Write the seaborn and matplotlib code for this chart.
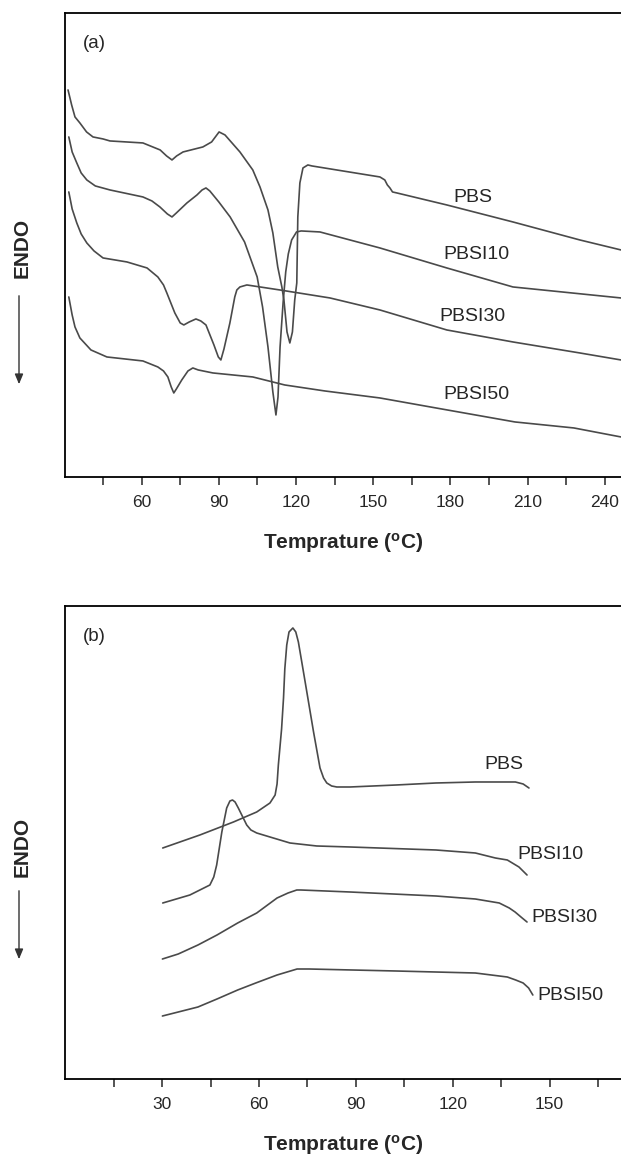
import pandas as pd
import seaborn as sns
import matplotlib.pyplot as plt
from matplotlib.patches import FancyArrowPatch

# ---- data (temperature in °C, heat flow in arbitrary units) ----
samples = ['PBS', 'PBSI10', 'PBSI30', 'PBSI50']

# (a) heating scans
pbs_a_t = [31.4, 32.8, 34.1, 36.0, 38.6, 41.1, 45.0, 47.7, 60.5, 67.2, 69.7, 71.8, 73.6, 76.1,
           83.8, 87.2, 90.1, 92.4, 98.2, 103.2, 106.0, 109.1, 111.0, 112.9, 114.5, 115.3,
           116.5, 117.6, 118.6, 119.5, 120.3, 120.7, 121.5, 122.7, 124.6, 126.2,
           152.6, 154.5, 155.5, 156.5, 157.5, 159.2, 178.6, 204.3, 230.3, 246.3]
pbs_a_hf = [38.7, 37.2, 36.0, 35.4, 34.5, 34.0, 33.8, 33.6, 33.4, 32.7, 32.1, 31.7, 32.1, 32.5,
            33.0, 33.5, 34.5, 34.2, 32.5, 30.7, 29.0, 26.7, 24.4, 21.0, 19.0, 17.7,
            14.5, 13.4, 14.5, 17.7, 19.4, 26.0, 29.4, 30.9, 31.2, 31.1,
            30.0, 29.7, 29.2, 28.9, 28.5, 28.4, 27.2, 25.5, 23.7, 22.7]

pbsi10_a_t = [31.7, 33.0, 34.8, 36.5, 38.7, 42.0, 47.7, 60.5, 64.0, 67.1, 70.0, 71.8, 73.5,
              77.6, 81.5, 83.5, 85.0, 86.5, 90.0, 94.4, 100.0, 104.9, 107.0, 109.1, 111.0,
              112.2, 113.0, 113.8, 115.0, 116.0, 117.0, 118.3, 120.2, 122.0, 129.3,
              152.6, 178.6, 204.3, 246.3]
pbsi10_a_hf = [34.0, 32.5, 31.4, 30.4, 29.7, 29.1, 28.7, 28.0, 27.6, 27.0, 26.3, 26.0, 26.4,
               27.4, 28.2, 28.7, 28.9, 28.6, 27.5, 26.0, 23.5, 20.0, 17.0, 13.0, 8.5,
               6.2, 8.0, 13.0, 17.5, 20.5, 22.3, 23.7, 24.5, 24.6, 24.5,
               22.9, 20.9, 19.0, 17.9]

pbsi30_a_t = [31.7, 33.0, 34.8, 36.5, 38.7, 41.5, 45.0, 54.3, 62.1, 66.3, 68.5, 69.8, 72.9,
              75.0, 76.4, 78.5, 81.1, 83.0, 85.0, 88.1, 89.8, 90.8, 92.0, 94.3, 96.2, 97.0,
              98.2, 100.9, 113.7, 133.2, 152.6, 178.6, 204.3, 230.3, 246.3]
pbsi30_a_hf = [28.5, 26.8, 25.4, 24.3, 23.4, 22.6, 21.9, 21.5, 20.9, 20.0, 19.2, 18.4, 16.4,
               15.4, 15.2, 15.5, 15.8, 15.6, 15.2, 13.2, 12.0, 11.7, 12.8, 15.4, 18.0, 18.7,
               19.0, 19.2, 18.7, 17.9, 16.7, 14.7, 13.5, 12.4, 11.7]

pbsi50_a_t = [31.7, 33.0, 34.1, 36.0, 40.3, 46.5, 60.5, 66.3, 68.5, 70.2, 71.5, 72.5, 73.5,
              75.6, 78.0, 79.9, 82.0, 87.7, 103.2, 115.6, 131.2, 152.6, 174.4, 205.1, 228.0, 246.3]
pbsi50_a_hf = [18.0, 16.2, 15.0, 13.9, 12.7, 12.0, 11.6, 11.0, 10.6, 10.0, 9.0, 8.4, 8.8,
               9.7, 10.6, 10.9, 10.7, 10.4, 10.0, 9.2, 8.6, 7.9, 6.9, 5.5, 4.9, 4.0]

# (b) cooling scans
pbs_b_t = [30.2, 41.7, 52.1, 59.3, 63.4, 65.0, 65.6, 66.0, 67.0, 67.6, 68.0, 68.6, 69.3,
           70.5, 71.4, 72.2, 73.2, 74.3, 76.9, 78.9, 80.0, 81.0, 82.5, 84.1, 88.2, 102.5,
           114.8, 127.0, 139.4, 141.8, 143.6]
pbs_b_hf = [23.1, 24.4, 25.7, 26.7, 27.6, 28.4, 29.5, 31.4, 35.0, 38.1, 41.0, 43.4, 44.7,
            45.1, 44.7, 43.7, 41.8, 39.7, 34.7, 31.1, 30.1, 29.6, 29.3, 29.2, 29.2, 29.4,
            29.6, 29.7, 29.7, 29.5, 29.1]

pbsi10_b_t = [30.2, 38.6, 44.8, 46.0, 46.9, 48.5, 50.0, 51.0, 51.8, 52.6, 53.6, 56.2, 57.5,
              59.3, 63.4, 69.6, 77.9, 88.2, 114.8, 127.0, 133.2, 136.9, 140.5, 143.0]
pbsi10_b_hf = [17.6, 18.4, 19.4, 20.2, 21.4, 24.7, 27.1, 27.8, 27.9, 27.7, 27.1, 25.4, 24.9,
               24.6, 24.2, 23.6, 23.3, 23.2, 22.9, 22.6, 22.1, 21.9, 21.2, 20.4]

pbsi30_b_t = [30.1, 35.0, 41.1, 47.0, 53.4, 59.3, 65.6, 69.0, 71.7, 73.0, 88.2, 114.8, 127.0,
              134.4, 137.5, 139.3, 141.5, 143.0]
pbsi30_b_hf = [12.0, 12.5, 13.4, 14.4, 15.6, 16.6, 18.1, 18.6, 18.9, 18.9, 18.7, 18.3, 18.0,
               17.6, 17.1, 16.7, 16.1, 15.7]

pbsi50_b_t = [30.1, 35.0, 41.1, 47.0, 53.4, 59.0, 65.6, 71.8, 75.5, 102.5, 127.0, 136.9,
              139.5, 141.8, 143.5, 144.8]
pbsi50_b_hf = [6.3, 6.7, 7.2, 8.0, 8.9, 9.6, 10.4, 11.0, 11.0, 10.8, 10.6, 10.2,
               9.9, 9.6, 9.1, 8.4]

ticks_a = [60, 90, 120, 150, 180, 210, 240]
minor_a = [45, 75, 105, 135, 165, 195, 225]
ticks_b = [30, 60, 90, 120, 150]
minor_b = [15, 45, 75, 105, 135, 165]


def make_frame(series):
    rows = []
    for name, (t, hf) in zip(samples, series):
        for i, (x, y) in enumerate(zip(t, hf)):
            rows.append({'sample': name, 'T': x, 'hf': y, 'i': i})
    return pd.DataFrame(rows)


df_a = make_frame([(pbs_a_t, pbs_a_hf), (pbsi10_a_t, pbsi10_a_hf),
                   (pbsi30_a_t, pbsi30_a_hf), (pbsi50_a_t, pbsi50_a_hf)])
df_b = make_frame([(pbs_b_t, pbs_b_hf), (pbsi10_b_t, pbsi10_b_hf),
                   (pbsi30_b_t, pbsi30_b_hf), (pbsi50_b_t, pbsi50_b_hf)])

sns.set_style('ticks')
plt.rcParams['font.family'] = ['Liberation Sans', 'DejaVu Sans']
plt.rcParams['mathtext.fontset'] = 'custom'
plt.rcParams['mathtext.rm'] = 'Liberation Sans'
plt.rcParams['mathtext.bf'] = 'Liberation Sans:bold'

fig = plt.figure(figsize=(6.21, 11.56), dpi=100)
ax_a = fig.add_axes([0.105, 0.5874, 0.895, 0.4014])
ax_b = fig.add_axes([0.105, 0.0666, 0.895, 0.4092])

line_col = '#4a4a4a'
xlabel = r'Temprature ($\mathbf{^{o}}$C)'

panels = [
    (ax_a, df_a, (30.3, 246.3), (0, 46.4), ticks_a, minor_a, '(a)',
     {'PBS': (188.7, 27.9), 'PBSI10': (190.3, 22.2), 'PBSI30': (188.7, 16.0), 'PBSI50': (190.3, 8.2)}),
    (ax_b, df_b, (0, 172.1), (0, 47.3), ticks_b, minor_b, '(b)',
     {'PBS': (135.9, 31.4), 'PBSI10': (150.4, 22.4), 'PBSI30': (154.5, 16.1), 'PBSI50': (156.4, 8.4)}),
]

for ax, df, xlim, ylim, ticks, minor, tag, label_pos in panels:
    sns.lineplot(data=df, x='T', y='hf', hue='sample', palette=[line_col] * 4,
                 sort=False, estimator=None, legend=False, linewidth=1.2, ax=ax)
    ax.set_xlim(*xlim)
    ax.set_ylim(*ylim)
    ax.set_xticks(ticks)
    ax.set_xticks(minor, minor=True)
    ax.set_yticks([])
    ax.set_ylabel('')
    ax.tick_params(axis='x', which='both', direction='out', length=6, width=1.1,
                   labelsize=12.5, pad=7, top=False)
    for side in ['left', 'bottom', 'top']:
        ax.spines[side].set_linewidth(1.3)
        ax.spines[side].set_color('black')
    ax.spines['right'].set_visible(False)
    ax.set_xlabel(xlabel, fontsize=15, fontweight='bold', labelpad=15)
    ax.text(0.032, 0.935, tag, transform=ax.transAxes, fontsize=13.5, va='center')
    for name in samples:
        x, y = label_pos[name]
        ax.text(x, y, name, fontsize=14, ha='center', va='center')

# ENDO labels with downward arrows
for y_text, y0, y1 in [(248, 293, 387), (847, 888, 962)]:
    fig.text(22 / 621, 1 - y_text / 1156, 'ENDO', rotation=90, fontsize=15,
             fontweight='bold', ha='center', va='center')
    fig.patches.append(FancyArrowPatch(
        (19 / 621, 1 - y0 / 1156), (19 / 621, 1 - y1 / 1156), transform=fig.transFigure,
        arrowstyle='-|>,head_length=6,head_width=2.5', color='#333333', linewidth=1.0))

fig.savefig('out.png', dpi=100)
